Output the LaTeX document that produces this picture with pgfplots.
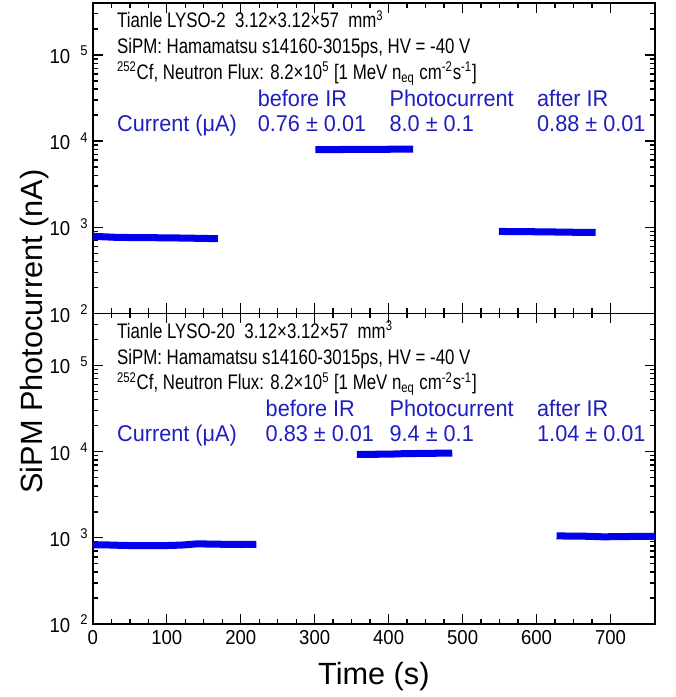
\documentclass[border=0pt]{standalone}
\usepackage{fontspec}
\setmainfont{Liberation Sans}
\newfontfamily\narrowfont[FakeStretch=0.8]{Liberation Sans}
\newfontfamily\bluefont[FakeStretch=0.95]{Liberation Sans}
\newfontfamily\tickfont[FakeStretch=0.92]{Liberation Sans}
\usepackage{pgfplots}
\pgfplotsset{compat=1.18}

\definecolor{datablue}{RGB}{0,0,235}
\definecolor{txtblue}{RGB}{30,30,190}

\pgfplotsset{
  sipmpanel/.style={
    scale only axis,
    width=11.26cm, height=6.22cm,
    xmin=0, xmax=760,
    ymin=100, ymax=4e5,
    xtick={0,100,...,700}, minor x tick num=3,
    ytick={100,1000,10000,100000},
    yticklabels={10\enspace\textsuperscript{2},10\enspace\textsuperscript{3},10\enspace\textsuperscript{4},10\enspace\textsuperscript{5}},
    minor ytick={200,300,400,500,600,700,800,900,2000,3000,4000,5000,6000,7000,8000,9000,
                 20000,30000,40000,50000,60000,70000,80000,90000,200000,300000,400000},
    tick align=inside,
    major tick length=2mm, minor tick length=1mm,
    axis line style={line width=1pt},
    every tick/.append style={black, line width=0.8pt},
    tick label style={font=\tickfont\fontsize{11.5}{13}\selectfont},
    yticklabel style={xshift=1pt},
    xticklabel style={/pgf/number format/assume math mode=true},
  },
}
\tikzset{
  infotxt/.style={anchor=base west, inner sep=0pt, font=\narrowfont\fontsize{12}{14}\selectfont},
  bluetxt/.style={anchor=base west, inner sep=0pt, text=txtblue, font=\bluefont\fontsize{13}{15}\selectfont},
  sipmdata/.style={datablue, line width=4pt, line cap=butt},
}

\begin{document}
\begin{tikzpicture}
% lower panel: Tianle LYSO-20
\begin{semilogyaxis}[sipmpanel, name=bot, at={(0,0)}, anchor=south west]
\addplot[sipmdata] coordinates {(0,830) (20,825) (40,815) (60,810) (80,808) (100,812) (120,822) (140,848) (160,845) (180,838) (200,835) (221,838)};
\addplot[sipmdata] coordinates {(357,9250) (380,9300) (400,9320) (420,9450) (440,9500) (460,9550) (486,9600)};
\addplot[sipmdata] coordinates {(627,1050) (650,1045) (670,1040) (690,1025) (710,1030) (730,1035) (760,1040)};
\node[infotxt] at (rel axis cs:0.0426,0.92) {Tianle LYSO-20\ \ 3.12×3.12×57\ \ mm\textsuperscript{3}};
\node[infotxt] at (rel axis cs:0.0426,0.836) {SiPM: Hamamatsu s14160-3015ps, HV = -40 V};
\node[infotxt] at (rel axis cs:0.0426,0.754) {\textsuperscript{252}Cf, Neutron Flux: 8.2×10\textsuperscript{5} [1 MeV n\textsubscript{eq} cm\textsuperscript{-2}s\textsuperscript{-1}]};
\node[bluetxt] at (rel axis cs:0.307,0.668) {before IR};
\node[bluetxt] at (rel axis cs:0.5275,0.668) {Photocurrent};
\node[bluetxt] at (rel axis cs:0.79,0.668) {after IR};
\node[bluetxt] at (rel axis cs:0.0426,0.586) {Current (μA)};
\node[bluetxt] at (rel axis cs:0.307,0.586) {0.83 ± 0.01};
\node[bluetxt] at (rel axis cs:0.5275,0.586) {9.4 ± 0.1};
\node[bluetxt] at (rel axis cs:0.79,0.586) {1.04 ± 0.01};
\end{semilogyaxis}
% upper panel: Tianle LYSO-2
\begin{semilogyaxis}[sipmpanel, name=top, at={(bot.north west)}, anchor=south west, xticklabels={}]
\addplot[sipmdata] coordinates {(0,785) (15,775) (30,765) (50,760) (70,760) (90,755) (110,752) (130,748) (150,742) (169,738)};
\addplot[sipmdata] coordinates {(301,7950) (330,7980) (360,8000) (390,8020) (410,8050) (433,8080)};
\addplot[sipmdata] coordinates {(549,895) (570,890) (590,888) (610,885) (630,880) (650,875) (680,870)};
\node[infotxt] at (rel axis cs:0.0426,0.92) {Tianle LYSO-2\ \ 3.12×3.12×57\ \ mm\textsuperscript{3}};
\node[infotxt] at (rel axis cs:0.0426,0.836) {SiPM: Hamamatsu s14160-3015ps, HV = -40 V};
\node[infotxt] at (rel axis cs:0.0426,0.754) {\textsuperscript{252}Cf, Neutron Flux: 8.2×10\textsuperscript{5} [1 MeV n\textsubscript{eq} cm\textsuperscript{-2}s\textsuperscript{-1}]};
\node[bluetxt] at (rel axis cs:0.293,0.668) {before IR};
\node[bluetxt] at (rel axis cs:0.5275,0.668) {Photocurrent};
\node[bluetxt] at (rel axis cs:0.79,0.668) {after IR};
\node[bluetxt] at (rel axis cs:0.0426,0.586) {Current (μA)};
\node[bluetxt] at (rel axis cs:0.293,0.586) {0.76 ± 0.01};
\node[bluetxt] at (rel axis cs:0.5275,0.586) {8.0 ± 0.1};
\node[bluetxt] at (rel axis cs:0.79,0.586) {0.88 ± 0.01};
\end{semilogyaxis}
\node[rotate=90, font=\fontsize{17.5}{20}\selectfont] at ([xshift=-1.16cm, yshift=-0.36cm]bot.north west) {SiPM Photocurrent (nA)};
\node[font=\fontsize{17.5}{20}\selectfont] at ([yshift=-1.06cm]bot.south) {Time (s)};
\useasboundingbox ([xshift=-1.86cm, yshift=-1.44cm]bot.south west) rectangle ([xshift=0.42cm, yshift=0.06cm]top.north east);
\end{tikzpicture}
\end{document}
